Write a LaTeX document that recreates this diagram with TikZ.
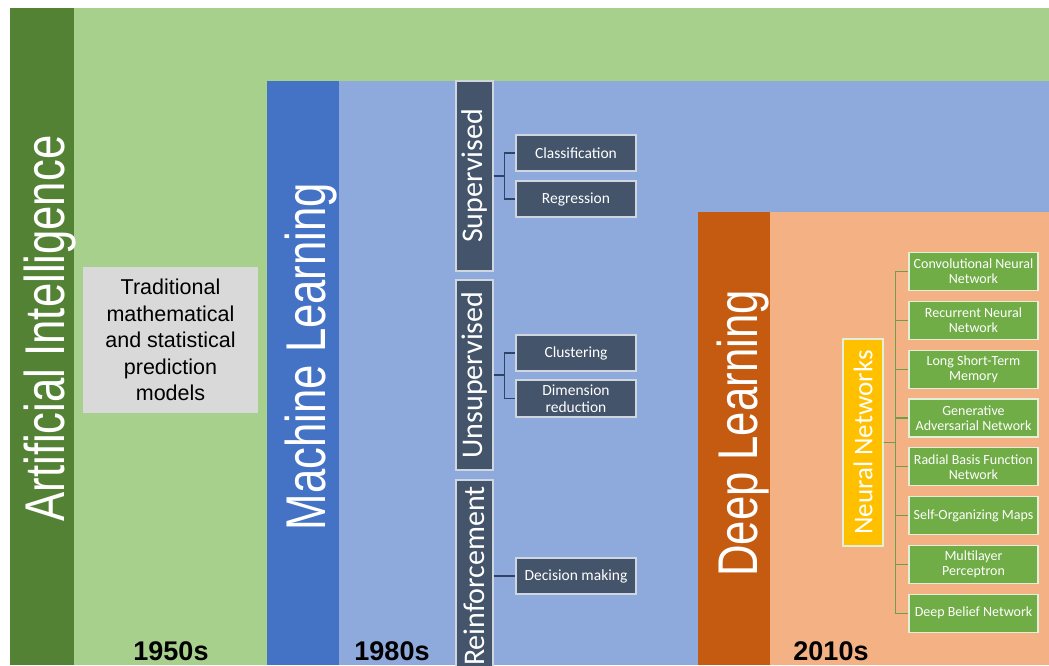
\documentclass[tikz,border=0pt]{standalone}
\usepackage{fontspec}
\setmainfont{Carlito}
\newfontfamily\arialfont{Liberation Sans}
\newfontfamily\titlefont[FakeStretch=0.78]{Liberation Sans}
\usetikzlibrary{positioning}
\definecolor{aidark}{HTML}{548235}
\definecolor{ailight}{HTML}{A8D08D}
\definecolor{mldark}{HTML}{4472C4}
\definecolor{mllight}{HTML}{8EA9DB}
\definecolor{dldark}{HTML}{C55A11}
\definecolor{dllight}{HTML}{F4B183}
\definecolor{slate}{HTML}{44546A}
\definecolor{slateline}{HTML}{D0D6E0}
\definecolor{slatelink}{HTML}{2F4468}
\definecolor{nngreen}{HTML}{70AD47}
\definecolor{nnline}{HTML}{E2EFD9}
\definecolor{nnlink}{HTML}{6E9E45}
\definecolor{nnyellow}{HTML}{FFC000}
\definecolor{tradgray}{HTML}{D9D9D9}

\begin{document}
\begin{tikzpicture}[x=1pt,y=-1pt]
    \tikzstyle{title}=[rotate=90, anchor=base, text=white, inner sep=0pt, font=\titlefont\fontsize{56}{58}\selectfont]
    \tikzstyle{kind}=[rotate=90, fill=slate, draw=slateline, line width=1.2pt, text=white, minimum height=37pt, inner sep=0pt, font=\fontsize{30}{32}\selectfont]
    \tikzstyle{task}=[fill=slate, draw=slateline, line width=1.2pt, text=white, minimum width=120pt, minimum height=36pt, inner sep=0pt, align=center, font=\fontsize{15.5}{17}\selectfont]
    \tikzstyle{net}=[fill=nngreen, draw=nnline, line width=1.2pt, text=white, minimum width=129pt, minimum height=38pt, inner sep=0pt, align=center, font=\fontsize{14}{15}\selectfont]
    \tikzstyle{decade}=[anchor=base, font=\arialfont\bfseries\fontsize{27}{30}\selectfont]
    \tikzstyle{tree}=[draw=slatelink, line width=1.3pt]
    \tikzstyle{nntree}=[draw=nnlink, line width=1.2pt]

    \useasboundingbox (0,0) rectangle (1049,665);
    \clip (0,0) rectangle (1049,665);

    % Draw the nested fields
    \fill[ailight] (10,8) rectangle (1049,665);
    \fill[aidark] (10,8) rectangle (74,665);
    \fill[mllight] (267,81) rectangle (1049,665);
    \fill[mldark] (267,81) rectangle (339,665);
    \fill[dllight] (698,212) rectangle (1049,665);
    \fill[dldark] (698,212) rectangle (770,665);

    \node[title] (ai) at (64,328.5) {Artificial Intelligence};
    \node[title] (ml) at (325,356.5) {Machine Learning};
    \node[title] (dl) at (757,433.5) {Deep Learning};

    % Artificial intelligence
    \node[fill=tradgray, minimum width=175pt, minimum height=146pt, inner sep=0pt, align=center,
          font=\arialfont\fontsize{21.5}{26.5}\selectfont] (trad) at (170.5,340)
        {Traditional\\mathematical\\and statistical\\prediction\\models};
    \node[decade] (d1) at (171,660) {1950s};

    % Machine learning
    \node[kind, minimum width=190pt] (sup) at (474.5,176) {Supervised};
    \node[kind, minimum width=190pt] (uns) at (474.5,375) {Unsupervised};
    \node[kind, minimum width=192pt] (rei) at (474.5,576) {Reinforcement};

    \node[task] (cls) at (576,153) {Classification};
    \node[task] (reg) at (576,199) {Regression};
    \node[task] (clu) at (576,353) {Clustering};
    \node[task, minimum height=37pt] (dim) at (576,398.5) {Dimension\\reduction};
    \node[task] (dec) at (576,576) {Decision making};

    \foreach \source/\dest in {sup/cls,sup/reg,uns/clu,uns/dim,rei/dec}
        \draw[tree] (\source.south) -- ++(11,0) |- (\dest.west);

    \node[decade] (d2) at (392,660) {1980s};

    % Deep learning
    \node[rotate=90, fill=nnyellow, draw=nnline, line width=1.2pt, text=white, minimum width=207pt,
          minimum height=40pt, inner sep=0pt, font=\fontsize{27}{29}\selectfont] (nn) at (863,442.5) {Neural Networks};

    \foreach \name/\i/\txt in {cnn/0/{Convolutional Neural\\Network}, rnn/1/{Recurrent Neural\\Network},
                               lstm/2/{Long Short-Term\\Memory}, gan/3/{Generative\\Adversarial Network},
                               rbf/4/{Radial Basis Function\\Network}, som/5/{Self-Organizing Maps},
                               mlp/6/{Multilayer\\Perceptron}, dbn/7/{Deep Belief Network}}
    {
        \node[net] (\name) at (973.5,271.5+48.8*\i) {\txt};
        \draw[nntree] (nn.south) -- ++(12,0) |- (\name.west);
    }

    \node[decade] (d3) at (831,660) {2010s};
\end{tikzpicture}
\end{document}
